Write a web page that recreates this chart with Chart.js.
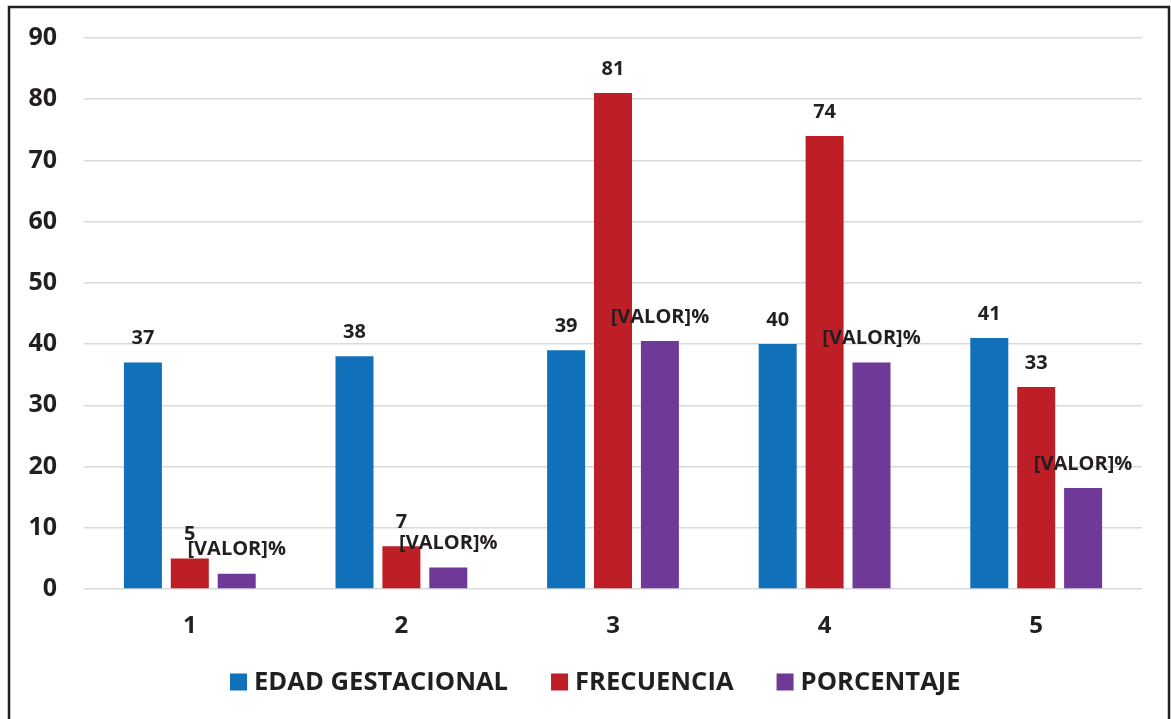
<!DOCTYPE html>
<html>
<head>
<meta charset="utf-8">
<script src="https://cdn.jsdelivr.net/npm/chart.js@4.4.1/dist/chart.umd.min.js"></script>
<style>
  html, body { margin: 0; padding: 0; background: #ffffff; }
  #wrap { position: relative; width: 1171px; height: 719px; }
</style>
</head>
<body>
<div id="wrap"><canvas id="chart" width="1171" height="719"></canvas></div>
<script>
// Categories on the x axis
const categories = ['1', '2', '3', '4', '5'];

// Series values
const edadGestacional = [37, 38, 39, 40, 41];
const frecuencia = [5, 7, 81, 74, 33];
const porcentaje = [2.5, 3.5, 40.5, 37, 16.5];

// Series names
const seriesNames = ['EDAD GESTACIONAL', 'FRECUENCIA', 'PORCENTAJE'];

// Y axis range
const yMin = 0;
const yMax = 90;
const yStep = 10;

const colors = ['#1170ba', '#be1e26', '#6e3997'];
const FONT = "'Open Sans', 'Liberation Sans', Arial, sans-serif";
const TEXT = '#231f20';

// Value labels above each bar; the percentage series shows a placeholder text
const barLabels = {
  id: 'barLabels',
  afterDatasetsDraw(chart) {
    const ctx = chart.ctx;
    ctx.save();
    ctx.font = 'bold 20px ' + FONT;
    ctx.fillStyle = TEXT;
    ctx.textAlign = 'center';
    ctx.textBaseline = 'middle';
    chart.data.datasets.forEach((ds, di) => {
      const meta = chart.getDatasetMeta(di);
      meta.data.forEach((bar, i) => {
        const text = di === 2 ? '[VALOR]%' : String(ds.data[i]);
        ctx.fillText(text, bar.x, bar.y - 24);
      });
    });
    ctx.restore();
  }
};

// Legend row under the x axis: square swatch followed by the series name
const legendRow = {
  id: 'legendRow',
  afterDraw(chart) {
    const ctx = chart.ctx;
    ctx.save();
    ctx.font = 'bold 25.6px ' + FONT;
    ctx.textBaseline = 'middle';
    ctx.textAlign = 'left';
    let x = 230;
    const y = 682;
    chart.data.datasets.forEach((ds) => {
      ctx.fillStyle = ds.backgroundColor;
      ctx.fillRect(x, y - 8.5, 17, 17);
      ctx.fillStyle = TEXT;
      ctx.fillText(ds.label, x + 24, y + 1);
      x += 24 + ctx.measureText(ds.label).width + 43;
    });
    ctx.restore();
  }
};

// Outer frame around the figure
const frame = {
  id: 'frame',
  afterDraw(chart) {
    const ctx = chart.ctx;
    ctx.save();
    ctx.strokeStyle = TEXT;
    ctx.lineWidth = 2.5;
    ctx.strokeRect(9, 7, 1160, 740);
    ctx.restore();
  }
};

new Chart(document.getElementById('chart'), {
  type: 'bar',
  data: {
    labels: categories,
    datasets: [
      { label: seriesNames[0], data: edadGestacional, backgroundColor: colors[0] },
      { label: seriesNames[1], data: frecuencia, backgroundColor: colors[1] },
      { label: seriesNames[2], data: porcentaje, backgroundColor: colors[2] }
    ]
  },
  options: {
    responsive: false,
    animation: false,
    devicePixelRatio: 1,
    categoryPercentage: 0.665,
    barPercentage: 0.81,
    layout: { padding: { top: 38, right: 29, bottom: 70, left: 0 } },
    scales: {
      x: {
        grid: { display: false, drawTicks: false },
        border: { display: false },
        ticks: {
          padding: 23,
          color: TEXT,
          font: { family: FONT, size: 24, weight: 'bold' }
        },
        afterFit(scale) { scale.height = 60; }
      },
      y: {
        min: yMin,
        max: yMax,
        ticks: {
          stepSize: yStep,
          padding: 27,
          color: TEXT,
          // single-line labels; a small line height keeps the top inset from growing
          font: { family: FONT, size: 25, weight: 'bold', lineHeight: 0.4 }
        },
        grid: { color: '#d9d9d9', lineWidth: 1.5, drawTicks: false },
        border: { display: false },
        afterFit(scale) { scale.width = 84; }
      }
    },
    plugins: {
      legend: { display: false },
      tooltip: { enabled: false }
    }
  },
  plugins: [barLabels, legendRow, frame]
});
</script>
</body>
</html>
